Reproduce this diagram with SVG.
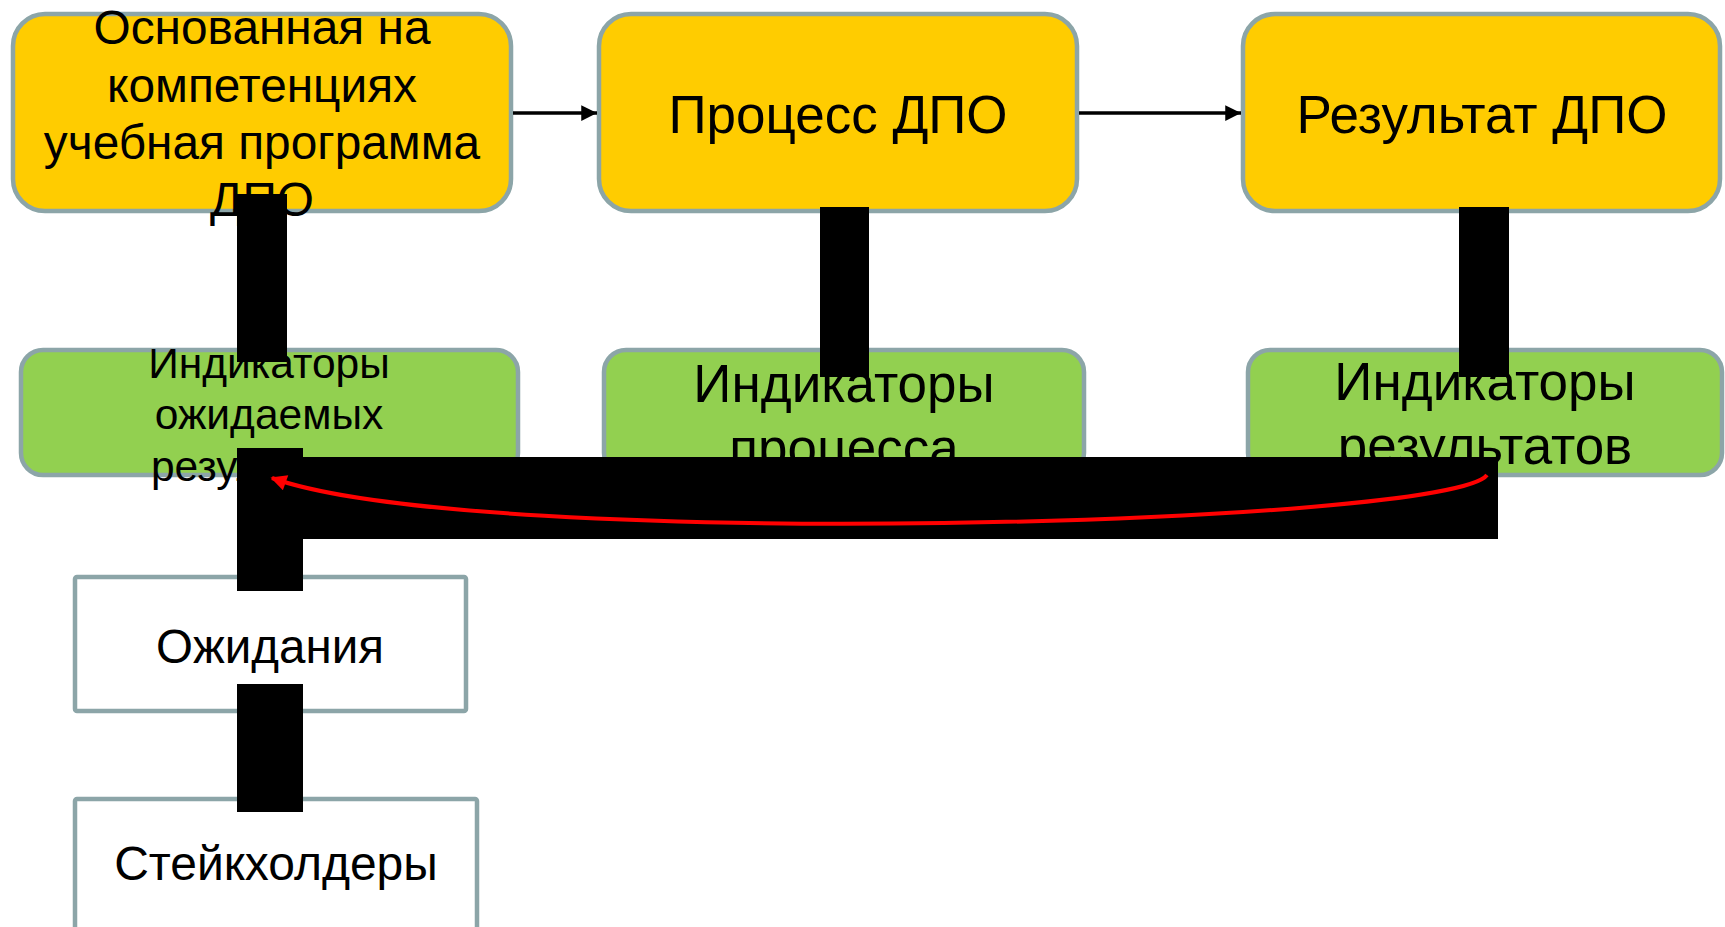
<svg xmlns="http://www.w3.org/2000/svg" width="1725" height="927" viewBox="0 0 1725 927">
<style>
.txt{font-family:"Liberation Sans",Arial,sans-serif;fill:#000;text-anchor:middle}
.yel{fill:#FFCC00;stroke:#8CA5A8;stroke-width:4.5}
.grn{fill:#92D050;stroke:#8CA5A8;stroke-width:4.5}
.wht{fill:#FFFFFF;stroke:#8CA5A8;stroke-width:4.5}
.bar{fill:#000}
.arr{stroke:#000;stroke-width:3.5;fill:none}
</style>
<defs>
<marker id="ah" viewBox="0 0 10 10" refX="10" refY="5" markerWidth="5" markerHeight="4.5" markerUnits="strokeWidth" orient="auto">
<path d="M0,0 L10,5 L0,10 z" fill="#000"/>
</marker>
<marker id="rh" viewBox="0 0 10 10" refX="9" refY="5" markerWidth="4.5" markerHeight="4" markerUnits="strokeWidth" orient="auto">
<path d="M0,0 L10,5 L0,10 z" fill="#FF0000"/>
</marker>
</defs>
<rect width="1725" height="927" fill="#fff"/>
<g id="node-program">
<rect class="yel" x="13" y="14" width="498" height="197" rx="32" ry="32"/>
<text class="txt" font-size="47.8" x="262" y="44">Основанная на</text>
<text class="txt" font-size="47.8" x="262" y="102">компетенциях</text>
<text class="txt" font-size="47.8" x="262" y="159">учебная программа</text>
<text class="txt" font-size="47.8" x="262" y="216">ДПО</text>
</g>
<g id="node-process">
<rect class="yel" x="599" y="14" width="478" height="197" rx="32" ry="32"/>
<text class="txt" font-size="53" x="838" y="133">Процесс ДПО</text>
</g>
<g id="node-result">
<rect class="yel" x="1243" y="14" width="477" height="197" rx="32" ry="32"/>
<text class="txt" font-size="53" x="1482" y="133">Результат ДПО</text>
</g>
<g id="node-ind-expected">
<rect class="grn" x="21" y="350" width="497" height="125" rx="22" ry="22"/>
<text class="txt" font-size="42.5" x="269" y="378">Индикаторы</text>
<text class="txt" font-size="42.5" x="269" y="429">ожидаемых</text>
<text class="txt" font-size="42.5" x="269" y="481">результатов</text>
</g>
<g id="node-ind-process">
<rect class="grn" x="604" y="350" width="480" height="125" rx="22" ry="22"/>
<text class="txt" font-size="53" x="844" y="402">Индикаторы</text>
<text class="txt" font-size="53" x="844" y="466">процесса</text>
</g>
<g id="node-ind-result">
<rect class="grn" x="1248" y="350" width="474" height="125" rx="22" ry="22"/>
<text class="txt" font-size="53" x="1485" y="400">Индикаторы</text>
<text class="txt" font-size="53" x="1485" y="464">результатов</text>
</g>
<g id="node-expectations">
<rect class="wht" x="75" y="577" width="391" height="134" rx="2" ry="2"/>
<text class="txt" font-size="47.5" x="270" y="663">Ожидания</text>
</g>
<g id="node-stakeholders">
<rect class="wht" x="75" y="799" width="402" height="200" rx="2" ry="2"/>
<text class="txt" font-size="48" x="276" y="880">Стейкхолдеры</text>
</g>
<g id="connectors">
<line class="arr" x1="513" y1="113" x2="597" y2="113" marker-end="url(#ah)"/>
<line class="arr" x1="1079" y1="113" x2="1241" y2="113" marker-end="url(#ah)"/>
<rect class="bar" x="237" y="194" width="50" height="168"/>
<rect class="bar" x="820" y="207" width="49" height="170"/>
<rect class="bar" x="1459" y="207" width="50" height="170"/>
<path class="bar" d="M237,448 L303,448 L303,457 L1498,457 L1498,539 L303,539 L303,591 L237,591 Z"/>
<rect class="bar" x="237" y="684" width="66" height="128"/>
<path d="M1487,475 C1450,525 480,552 272,478" stroke="#FF0000" stroke-width="4" fill="none" marker-end="url(#rh)"/>
</g>
</svg>
